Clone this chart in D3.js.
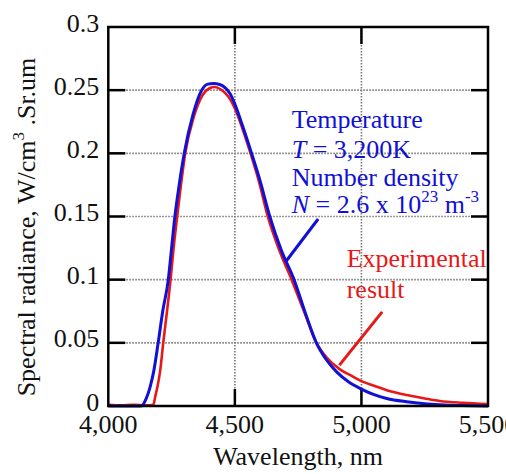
<!DOCTYPE html>
<html>
<head>
<meta charset="utf-8">
<script src="https://cdn.jsdelivr.net/npm/d3@7"></script>
<style>
  body { margin: 0; background: #fff; }
  svg { display: block; }
</style>
</head>
<body>
<svg id="chart" width="506" height="474"></svg>
<script>
// data
const theoryWl = [4000, 4100, 4130, 4150, 4165, 4180, 4197, 4215, 4237, 4250, 4263, 4280, 4300, 4335, 4369, 4393, 4415, 4440, 4461, 4480, 4500, 4530, 4566, 4600, 4638, 4684, 4734, 4776, 4822, 4860, 4902, 4950, 5000, 5050, 5100, 5178, 5250, 5309, 5400, 5500]
const theoryRad = [0, 0, 0, 0.006, 0.015, 0.028, 0.05, 0.075, 0.1, 0.125, 0.15, 0.175, 0.2, 0.231, 0.25, 0.2548, 0.2552, 0.2545, 0.252, 0.2475, 0.239, 0.222, 0.2, 0.178, 0.15, 0.123, 0.1, 0.075, 0.05, 0.037, 0.027, 0.019, 0.0134, 0.009, 0.006, 0.0034, 0.0018, 0.001, 0.0003, 0]
const exptWl = [4000, 4050, 4100, 4150, 4178, 4186, 4194, 4205, 4217, 4232, 4246, 4258, 4272, 4287, 4304, 4338, 4372, 4400, 4420, 4445, 4465, 4482, 4500, 4530, 4562, 4596, 4630, 4676, 4724, 4773, 4822, 4860, 4915, 4960, 5000, 5050, 5100, 5178, 5250, 5309, 5400, 5500]
const exptRad = [0.001, 0.0005, 0.001, 0.0005, 0.001, 0.008, 0.015, 0.028, 0.05, 0.075, 0.1, 0.125, 0.15, 0.175, 0.2, 0.229, 0.246, 0.2515, 0.2525, 0.2505, 0.247, 0.2425, 0.2355, 0.2195, 0.2, 0.177, 0.15, 0.123, 0.1, 0.075, 0.05, 0.039, 0.029, 0.024, 0.0197, 0.016, 0.0125, 0.0087, 0.006, 0.004, 0.0025, 0.0015]
const xTicks = [4000, 4500, 5000, 5500]
const xTickLabels = ["4,000", "4,500", "5,000", "5,500"]
const yTicks = [0, 0.05, 0.1, 0.15, 0.2, 0.25, 0.3]
const yTickLabels = ["0", "0.05", "0.1", "0.15", "0.2", "0.25", "0.3"]

const blue = "#1010d6"
const red = "#e81818"
const serif = "'Liberation Serif', 'Times New Roman', Times, 'DejaVu Serif', serif"

const svg = d3.select("#chart").attr("font-family", serif)
const pl = 108.3, pr = 488, pt = 27, pb = 406
const x = d3.scaleLinear().domain([4000, 5500]).range([pl, pr])
const y = d3.scaleLinear().domain([0, 0.3]).range([pb, pt])
const tick = 17

// grid
const grid = svg.append("g").attr("stroke", "#777").attr("stroke-width", 1.6).attr("stroke-dasharray", "1.5,1.5")
xTicks.slice(1, -1).forEach(v => {
  grid.append("line").attr("x1", x(v)).attr("x2", x(v)).attr("y1", pt).attr("y2", pb)
})
yTicks.slice(1, -1).forEach(v => {
  grid.append("line").attr("x1", pl).attr("x2", pr).attr("y1", y(v)).attr("y2", y(v))
})

// ticks, pointing inward on all four sides
const ticks = svg.append("g").attr("stroke", "#000").attr("stroke-width", 2.5)
xTicks.slice(1, -1).forEach(v => {
  ticks.append("line").attr("x1", x(v)).attr("x2", x(v)).attr("y1", pb).attr("y2", pb - tick)
  ticks.append("line").attr("x1", x(v)).attr("x2", x(v)).attr("y1", pt).attr("y2", pt + tick)
})
yTicks.slice(1, -1).forEach(v => {
  ticks.append("line").attr("x1", pl).attr("x2", pl + tick).attr("y1", y(v)).attr("y2", y(v))
  ticks.append("line").attr("x1", pr).attr("x2", pr - tick).attr("y1", y(v)).attr("y2", y(v))
})

// curves
const line = d3.line().x(d => x(d[0])).y(d => y(d[1])).curve(d3.curveMonotoneX)
svg.append("path").datum(d3.zip(exptWl, exptRad)).attr("d", line)
  .attr("fill", "none").attr("stroke", red).attr("stroke-width", 2.6).attr("stroke-linejoin", "round")
svg.append("path").datum(d3.zip(theoryWl, theoryRad)).attr("d", line)
  .attr("fill", "none").attr("stroke", blue).attr("stroke-width", 3).attr("stroke-linejoin", "round")

// frame
svg.append("rect").attr("x", pl).attr("y", pt).attr("width", pr - pl).attr("height", pb - pt)
  .attr("fill", "none").attr("stroke", "#000").attr("stroke-width", 2.5)

// tick labels
const fs = 26
svg.append("g").selectAll("text").data(xTicks).join("text")
  .attr("x", d => x(d)).attr("y", pb + 27).attr("text-anchor", "middle")
  .attr("font-family", serif).attr("font-size", fs).attr("fill", "#111").text((d, i) => xTickLabels[i])
svg.append("g").selectAll("text").data(yTicks).join("text")
  .attr("x", pl - 9).attr("y", d => y(d) + 4.5).attr("text-anchor", "end")
  .attr("font-family", serif).attr("font-size", fs).attr("fill", "#111").text((d, i) => yTickLabels[i])

// axis titles
svg.append("text").attr("x", 298).attr("y", 465).attr("text-anchor", "middle")
  .attr("font-family", serif).attr("font-size", fs).attr("fill", "#111").text("Wavelength, nm")
const yt = svg.append("text").attr("transform", "translate(35,227) rotate(-90)")
  .attr("text-anchor", "middle").attr("font-family", serif).attr("font-size", fs).attr("fill", "#111")
yt.append("tspan").text("Spectral radiance, W/cm")
yt.append("tspan").attr("font-size", 17).attr("dy", -11).text("3")
yt.append("tspan").attr("dy", 11).text(" .Sr.um")

// annotations
const note = svg.append("g").attr("font-family", serif).attr("font-size", fs).attr("fill", blue)
const nx = 291.7
note.append("text").attr("x", nx).attr("y", 128.3).text("Temperature")
const t2 = note.append("text").attr("x", nx).attr("y", 158.3)
t2.append("tspan").attr("font-style", "italic").text("T")
t2.append("tspan").text(" = 3,200K")
note.append("text").attr("x", nx).attr("y", 185.5).text("Number density")
const t4 = note.append("text").attr("x", nx).attr("y", 213)
t4.append("tspan").attr("font-style", "italic").text("N")
t4.append("tspan").text(" = 2.6 x 10")
t4.append("tspan").attr("font-size", 17).attr("dy", -11).text("23")
t4.append("tspan").attr("dy", 11).text(" m")
t4.append("tspan").attr("font-size", 17).attr("dy", -11).text("-3")

svg.append("line").attr("x1", x(4829)).attr("y1", y(0.148)).attr("x2", x(4700)).attr("y2", y(0.114))
  .attr("stroke", blue).attr("stroke-width", 3)

const rn = svg.append("g").attr("font-family", serif).attr("font-size", fs).attr("fill", red)
rn.append("text").attr("x", 346.7).attr("y", 267.3).text("Experimental")
rn.append("text").attr("x", 346.7).attr("y", 298.3).text("result")
svg.append("line").attr("x1", x(5082)).attr("y1", y(0.0745)).attr("x2", x(4913)).attr("y2", y(0.0324))
  .attr("stroke", red).attr("stroke-width", 3)
</script>
</body>
</html>
